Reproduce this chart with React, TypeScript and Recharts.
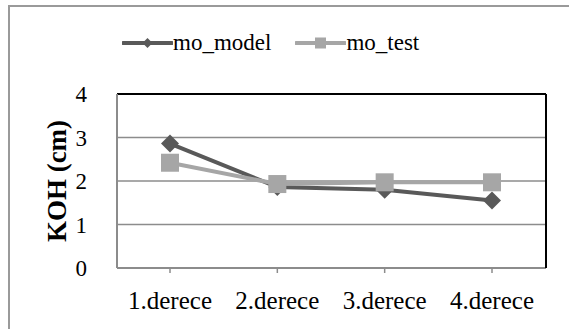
import React from "react";
import { LineChart, Line, XAxis, YAxis, CartesianGrid, ReferenceLine } from "recharts";

const categories = ["1.derece", "2.derece", "3.derece", "4.derece"];
const moModel = [2.86, 1.86, 1.8, 1.55];
const moTest = [2.42, 1.93, 1.97, 1.97];
const yTicks = [0, 1, 2, 3, 4];

const DARK = "#595959";
const LIGHT = "#a6a6a6";
const GRID = "#8c8c8c";
const FONT = "Times New Roman, Liberation Serif, DejaVu Serif, serif";

const data = categories.map((c, i) => ({ cat: c, mo_model: moModel[i], mo_test: moTest[i] }));

const Diamond = (p: any) => {
  const { cx, cy } = p;
  if (cx == null || cy == null) return null;
  const r = 9;
  return <path d={`M${cx},${cy - r}L${cx + r},${cy}L${cx},${cy + r}L${cx - r},${cy}Z`} fill={DARK} />;
};

const Square = (p: any) => {
  const { cx, cy } = p;
  if (cx == null || cy == null) return null;
  const s = 18;
  return <rect x={cx - s / 2} y={cy - s / 2} width={s} height={s} fill={LIGHT} />;
};

function LegendItem({ color, label, marker }: { color: string; label: string; marker: "d" | "s" }) {
  return (
    <span style={{ display: "inline-flex", alignItems: "center" }}>
      <svg width={51} height={14}>
        <line x1={1} y1={7} x2={50} y2={7} stroke={color} strokeWidth={4} strokeLinecap="round" />
        {marker === "d" ? (
          <path d="M25.5,2L30.5,7L25.5,12L20.5,7Z" fill={color} />
        ) : (
          <rect x={20} y={1.5} width={11} height={11} fill={color} />
        )}
      </svg>
      <span>{label}</span>
    </span>
  );
}

export default function App() {
  return (
    <div style={{ position: "fixed", left: 0, top: 0, width: 569, height: 329, background: "#fff", overflow: "hidden" }}>
      <div style={{ position: "absolute", left: 8, top: 5, width: 600, height: 400, border: "2px solid #9a9a9a", boxSizing: "border-box" }} />
      <div style={{ position: "absolute", left: 122, top: 28, fontFamily: FONT, fontSize: 23, color: "#000", display: "flex", gap: 24, lineHeight: "30px" }}>
        <LegendItem color={DARK} label="mo_model" marker="d" />
        <LegendItem color={LIGHT} label="mo_test" marker="s" />
      </div>
      <div style={{ position: "absolute", left: 0, top: 0 }}>
        <LineChart width={569} height={329} data={data} margin={{ top: 94, right: 0, bottom: 0, left: 0 }}>
          <CartesianGrid horizontal vertical={false} stroke={GRID} strokeWidth={1.5} />
          <XAxis
            dataKey="cat"
            height={61}
            padding={{ left: 53, right: 54 }}
            axisLine={{ stroke: GRID, strokeWidth: 2 }}
            tickLine={{ stroke: GRID, strokeWidth: 1.5 }}
            tickSize={5}
            tickMargin={18}
            tick={{ fill: "#000", fontSize: 25, fontFamily: FONT }}
            interval={0}
          />
          <YAxis
            domain={[0, 4]}
            ticks={yTicks}
            width={117}
            axisLine={{ stroke: GRID, strokeWidth: 2 }}
            tickLine={false}
            tickMargin={24}
            tick={{ fill: "#000", fontSize: 23, fontFamily: FONT }}
            label={{
              value: "KOH  (cm)",
              angle: -90,
              position: "insideLeft",
              offset: 56,
              style: { fontFamily: FONT, fontSize: 27, fontWeight: "bold", fill: "#000", textAnchor: "middle", whiteSpace: "pre" },
            }}
          />
          <YAxis yAxisId="r" orientation="right" width={23} domain={[0, 4]} tick={false} tickLine={false} axisLine={{ stroke: "#000", strokeWidth: 2 }} />
          <ReferenceLine y={4} stroke="#000" strokeWidth={2} />
          <Line
            dataKey="mo_model"
            stroke={DARK}
            strokeWidth={4}
            dot={<Diamond />}
            activeDot={false}
            isAnimationActive={false}
          />
          <Line
            dataKey="mo_test"
            stroke={LIGHT}
            strokeWidth={4}
            dot={<Square />}
            activeDot={false}
            isAnimationActive={false}
          />
        </LineChart>
      </div>
    </div>
  );
}
